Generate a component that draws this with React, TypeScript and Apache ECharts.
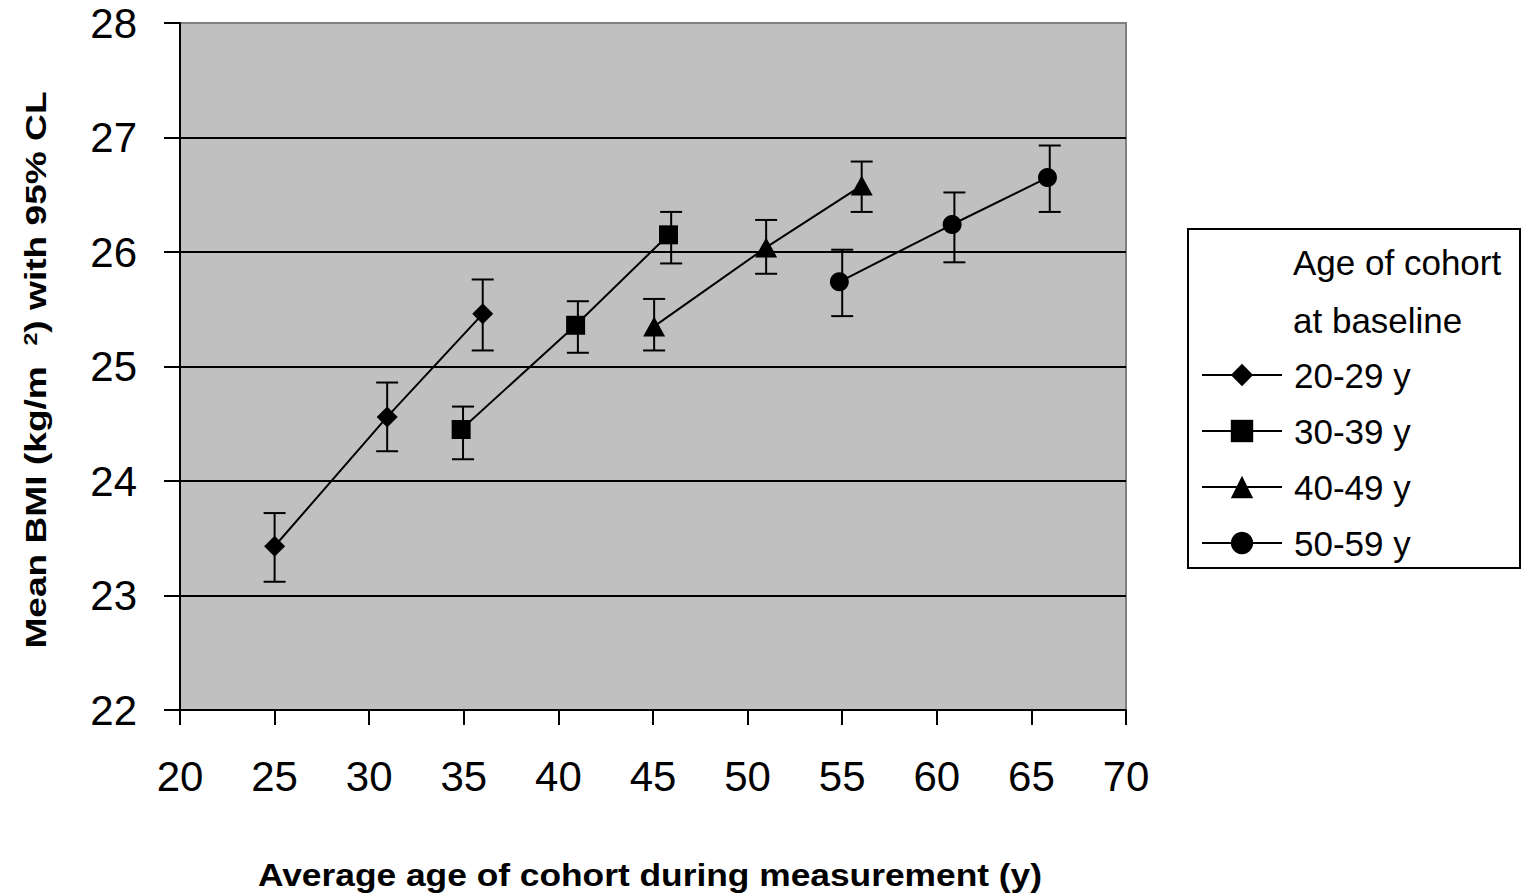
import React, { useEffect, useRef } from "react";
import * as echarts from "echarts";

// ---- Data ----
const seriesNames = ["20-29 y", "30-39 y", "40-49 y", "50-59 y"];
const seriesSymbols = ["diamond", "rect", "triangle", "circle"];

const ages20 = [25.0, 30.95, 36.0];
const bmi20 = [23.43, 24.56, 25.46];
const ciAges20 = [25.0, 30.95, 36.0];
const lo20 = [23.12, 24.26, 25.14];
const hi20 = [23.72, 24.86, 25.76];

const ages30 = [34.86, 40.91, 45.82];
const bmi30 = [24.45, 25.36, 26.15];
const ciAges30 = [34.96, 41.03, 45.96];
const lo30 = [24.19, 25.12, 25.9];
const hi30 = [24.65, 25.57, 26.35];

const ages40 = [45.06, 50.98, 56.03];
const bmi40 = [25.35, 26.04, 26.58];
const ciAges40 = [45.06, 50.98, 56.03];
const lo40 = [25.14, 25.81, 26.35];
const hi40 = [25.59, 26.28, 26.79];

const ages50 = [54.85, 60.81, 65.85];
const bmi50 = [25.74, 26.24, 26.65];
const ciAges50 = [55.0, 60.93, 65.97];
const lo50 = [25.44, 25.91, 26.35];
const hi50 = [26.02, 26.52, 26.93];

const xMin = 20;
const xMax = 70;
const xStep = 5;
const yMin = 22;
const yMax = 28;
const yStep = 1;

const xTitle = "Average age of cohort during measurement (y)";
const yTitleParts = ["Mean BMI (kg/m  ", "2", ") with 95% CL"];
const legendTitle = ["Age of cohort", "at baseline"];

const groups = [
  { ages: ages20, bmi: bmi20, ciAges: ciAges20, lo: lo20, hi: hi20 },
  { ages: ages30, bmi: bmi30, ciAges: ciAges30, lo: lo30, hi: hi30 },
  { ages: ages40, bmi: bmi40, ciAges: ciAges40, lo: lo40, hi: hi40 },
  { ages: ages50, bmi: bmi50, ciAges: ciAges50, lo: lo50, hi: hi50 },
];

const FONT = '"Liberation Sans", Arial, Helvetica, sans-serif';
const symbolSizes: any[] = [21, 19, [22, 20], 19];

export default function App() {
  const ref = useRef<HTMLDivElement>(null);

  useEffect(() => {
    if (!ref.current) return;
    const chart = echarts.init(ref.current, undefined, { renderer: "svg" });

    const lineSeries = groups.map((g, i) => ({
      type: "line",
      name: seriesNames[i],
      data: g.ages.map((a, j) => [a, g.bmi[j]]),
      symbol: seriesSymbols[i],
      symbolSize: symbolSizes[i],
      itemStyle: { color: "#000" },
      lineStyle: { color: "#000", width: 2 },
      z: 4,
    }));

    const errorSeries = groups.map((g, i) => ({
      type: "custom",
      name: seriesNames[i] + " CI",
      data: g.ciAges.map((a, j) => [a, g.lo[j], g.hi[j]]),
      encode: { x: 0, y: [1, 2] },
      z: 3,
      silent: true,
      renderItem: (params: any, api: any) => {
        const x = api.value(0);
        const pLo = api.coord([x, api.value(1)]);
        const pHi = api.coord([x, api.value(2)]);
        const hw = 11;
        const st = { stroke: "#000", lineWidth: 2 };
        return {
          type: "group",
          children: [
            { type: "line", shape: { x1: pLo[0], y1: pLo[1], x2: pHi[0], y2: pHi[1] }, style: st },
            { type: "line", shape: { x1: pLo[0] - hw, y1: pLo[1], x2: pLo[0] + hw, y2: pLo[1] }, style: st },
            { type: "line", shape: { x1: pHi[0] - hw, y1: pHi[1], x2: pHi[0] + hw, y2: pHi[1] }, style: st },
          ],
        };
      },
    }));

    const splitColors = [] as string[];
    for (let v = yMin; v <= yMax; v += yStep) splitColors.push(v === yMax ? "#808080" : "#000");

    chart.setOption({
      animation: false,
      backgroundColor: "#fff",
      grid: {
        left: 180,
        top: 23,
        width: 946,
        height: 687,
        show: true,
        backgroundColor: "#c0c0c0",
        borderColor: "#808080",
        borderWidth: 2,
      },
      xAxis: {
        type: "value",
        min: xMin,
        max: xMax,
        interval: xStep,
        axisLine: { lineStyle: { color: "#000", width: 2 } },
        axisTick: { show: true, inside: false, length: 15, lineStyle: { color: "#000", width: 2 } },
        axisLabel: { fontSize: 42, fontFamily: FONT, color: "#000", margin: 45 },
        splitLine: { show: false },
      },
      yAxis: {
        type: "value",
        min: yMin,
        max: yMax,
        interval: yStep,
        axisLine: { show: true, lineStyle: { color: "#000", width: 2 } },
        axisTick: { show: true, inside: false, length: 16, lineStyle: { color: "#000", width: 2 } },
        axisLabel: { fontSize: 42, fontFamily: FONT, color: "#000", margin: 43 },
        splitLine: { show: true, lineStyle: { color: splitColors, width: 2 } },
      },
      legend: {
        orient: "vertical",
        left: 1201,
        top: 357,
        padding: 0,
        itemWidth: 80,
        itemHeight: 28,
        itemGap: 20,
        data: seriesNames,
        textStyle: { fontSize: 35, fontFamily: FONT, color: "#000", lineHeight: 36, padding: [0, 0, 0, 7] },
      },
      graphic: [
        {
          type: "rect",
          shape: { x: 1188, y: 229, width: 332, height: 339 },
          style: { fill: "#fff", stroke: "#000", lineWidth: 2 },
          z: -1,
        },
        {
          type: "text",
          x: 1293,
          y: 262,
          style: { text: legendTitle[0], font: `35px ${FONT}`, fill: "#000", textAlign: "left", textVerticalAlign: "middle" },
        },
        {
          type: "text",
          x: 1293,
          y: 320,
          style: { text: legendTitle[1], font: `35px ${FONT}`, fill: "#000", textAlign: "left", textVerticalAlign: "middle" },
        },
        {
          type: "text",
          x: 650,
          y: 875,
          scaleX: 1.14,
          style: {
            text: xTitle,
            font: `bold 31px ${FONT}`,
            fill: "#000",
            textAlign: "center",
            textVerticalAlign: "middle",
          },
        },
        {
          type: "text",
          x: 36,
          y: 370,
          rotation: Math.PI / 2,
          scaleX: 1.28,
          style: {
            text: `{a|${yTitleParts[0]}}{s|${yTitleParts[1]}}{a|${yTitleParts[2]}}`,
            fill: "#000",
            textAlign: "center",
            textVerticalAlign: "middle",
            rich: {
              a: { fontSize: 29, fontWeight: "bold", fontFamily: FONT, color: "#000", lineHeight: 30 },
              s: { fontSize: 18, fontWeight: "bold", fontFamily: FONT, color: "#000", lineHeight: 18, verticalAlign: "top" },
            },
          },
        },
      ],
      series: [...errorSeries, ...lineSeries],
    });

    return () => chart.dispose();
  }, []);

  return (
    <div
      ref={ref}
      style={{ position: "absolute", left: 0, top: 0, width: 1527, height: 896, background: "#fff" }}
    />
  );
}
